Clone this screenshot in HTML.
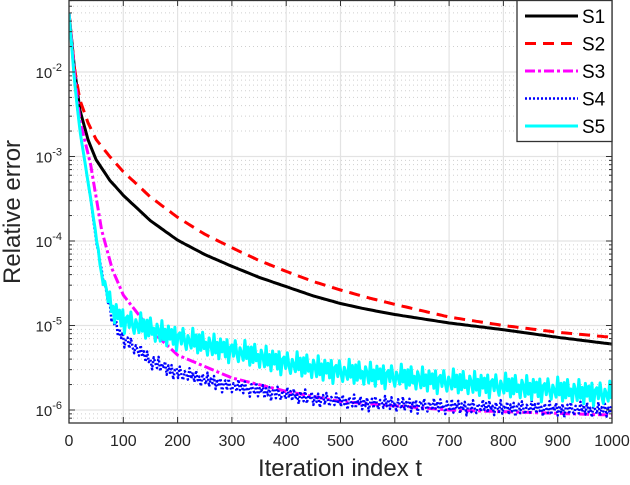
<!DOCTYPE html>
<html><head><meta charset="utf-8"><style>
body{margin:0;background:#fff;width:630px;height:480px;overflow:hidden}
svg{font-family:"Liberation Sans",Arial,sans-serif}
</style></head><body>
<svg id="c" width="630" height="480"></svg>
<script>
const tS1=[0,10,20,35,50,75,100,150,200,250,300,350,400,450,500,550,600,700,800,900,1000];
const vS1=[-1.3,-1.95,-2.45,-2.8,-3.04,-3.28,-3.46,-3.76,-3.99,-4.16,-4.3,-4.43,-4.54,-4.65,-4.74,-4.81,-4.87,-4.97,-5.05,-5.14,-5.22];
const tS2=[0,10,20,35,50,75,100,150,200,250,300,350,400,450,500,550,600,700,800,900,1000];
const vS2=[-1.3,-1.95,-2.33,-2.6,-2.8,-3.0,-3.18,-3.48,-3.72,-3.92,-4.08,-4.23,-4.36,-4.48,-4.58,-4.67,-4.75,-4.9,-5.0,-5.08,-5.14];
const tS3=[0,10,20,40,60,80,100,150,200,300,400,500,700,1000];
const vS3=[-1.3,-2.0,-2.57,-3.1,-3.87,-4.34,-4.64,-5.05,-5.35,-5.62,-5.78,-5.9,-6.0,-6.06];
const tS4=[0,10,20,40,50,60,80,100,150,200,300,400,500,700,1000];
const vS4=[-1.3,-2.1,-2.69,-3.51,-4.0,-4.34,-4.94,-5.15,-5.42,-5.56,-5.72,-5.82,-5.9,-5.96,-6.0];
const tS5=[0,10,20,40,60,80,100,150,200,300,400,500,700,1000];
const vS5=[-1.3,-2.1,-2.69,-3.5,-4.4,-4.82,-4.94,-5.05,-5.15,-5.3,-5.45,-5.55,-5.67,-5.82];
const jitterS4=[0.05,-0.06,0.08,-0.03,0.02,-0.09,0.06,0.0,-0.05,0.09,-0.07,0.03,-0.02,0.07,-0.08,0.04,-0.04,0.06,-0.1,0.02,0.05,-0.06,0.08,-0.01,-0.07,0.04,0.01,-0.05,0.09,-0.03];
const jitterS5=[0.1,-0.08,0.14,-0.05,0.03,-0.12,0.09,0.02,-0.1,0.15,-0.07,0.06,-0.13,0.11,-0.04,0.08,-0.09,0.12,-0.15,0.04,0.07,-0.06,0.13,-0.02,-0.11,0.06,0.0,-0.08,0.16,-0.05,0.09,-0.12];
const xTicks=[0,100,200,300,400,500,600,700,800,900,1000];
const yTicks=[-6,-5,-4,-3,-2];
const names=["S1","S2","S3","S4","S5"];

const NS="http://www.w3.org/2000/svg";
const svg=document.getElementById('c');
const X0=69,X1=612,Y0=0,Y1=423;
const xmin=0,xmax=1000,lmax=-1.148,lmin=-6.154;
const sx=t=>X0+(t-xmin)/(xmax-xmin)*(X1-X0);
const sy=l=>Y0+(lmax-l)/(lmax-lmin)*(Y1-Y0);
function el(tag,attrs,parent){const e=document.createElementNS(NS,tag);for(const k in attrs)e.setAttribute(k,attrs[k]);(parent||svg).appendChild(e);return e;}

const grid=el('g',{});


for(let d=-7;d<=-1;d++){for(let m=2;m<=9;m++){const l=d+Math.log10(m);if(l<lmin||l>lmax)continue;const y=sy(l);
 el('line',{x1:X0,x2:X1,y1:y,y2:y,stroke:'#cfcfcf','stroke-width':1,'stroke-dasharray':'1,3'},grid);}}
xTicks.forEach(t=>{const x=sx(t);el('line',{x1:x,x2:x,y1:Y0,y2:Y1,stroke:'#e3e3e3','stroke-width':1.2},grid);});
yTicks.forEach(l=>{const y=sy(l);el('line',{x1:X0,x2:X1,y1:y,y2:y,stroke:'#e3e3e3','stroke-width':1.2},grid);});

function interp(ts,vs,t){for(let i=1;i<ts.length;i++){if(t<=ts[i]){const f=(t-ts[i-1])/(ts[i]-ts[i-1]);return vs[i-1]+f*(vs[i]-vs[i-1]);}}return vs[vs.length-1];}
function pathFor(ts,vs,jit,step){let d='';let k=0;
 for(let t=0;t<=1000;t+=step){let l=interp(ts,vs,t);if(jit&&t>45){const a=Math.min(1,(t-45)/40);l+=jit[k%jit.length]*a;k++;}
  d+=(d?'L':'M')+sx(t).toFixed(1)+','+sy(l).toFixed(1);}return d;}
const styles=[
 {c:'#000',w:3,da:''},
 {c:'#ff0000',w:3,da:'11,7'},
 {c:'#ff00ff',w:3,da:'10,3,3,3'},
 {c:'#0000ff',w:2.5,da:'2,2'},
 {c:'#00ffff',w:3,da:''}];
const data=[[tS1,vS1,null],[tS2,vS2,null],[tS3,vS3,null],[tS4,vS4,jitterS4],[tS5,vS5,jitterS5]];
const clip=el('clipPath',{id:'cp'});el('rect',{x:X0,y:Y0,width:X1-X0,height:Y1-Y0},clip);
const lines=el('g',{'clip-path':'url(#cp)'});
data.forEach((s,i)=>{const p=el('path',{d:pathFor(s[0],s[1],s[2],s[2]?3:5),fill:'none',stroke:styles[i].c,'stroke-width':styles[i].w,'stroke-dasharray':styles[i].da,'stroke-linejoin':'round'},lines);
 
 });

const ax=el('rect',{x:X0,y:Y0+0.5,width:X1-X0,height:Y1-Y0-0.5,fill:'none',stroke:'#333','stroke-width':1.3});


xTicks.forEach(t=>{const x=sx(t);el('line',{x1:x,x2:x,y1:Y1,y2:Y1-6,stroke:'#333'});el('line',{x1:x,x2:x,y1:Y0,y2:Y0+6,stroke:'#333'});
 const tx=el('text',{x:x,y:446,'text-anchor':'middle','font-size':16,fill:'#262626'});tx.textContent=t;
 
 });
for(let d=-7;d<=-1;d++){for(let m=1;m<=9;m++){const l=d+Math.log10(m);if(l<lmin||l>lmax)continue;const y=sy(l);const len=m==1?6:3;
 el('line',{x1:X0,x2:X0+len,y1:y,y2:y,stroke:'#333'});el('line',{x1:X1,x2:X1-len,y1:y,y2:y,stroke:'#333'});}}
yTicks.forEach(l=>{const y=sy(l);const tx=el('text',{x:62,y:y+6,'text-anchor':'end','font-size':15,fill:'#262626'});
 tx.innerHTML='10<tspan dy="-7" font-size="11">'+l+'</tspan>';
 
 });
const xl=el('text',{x:340,y:476,'text-anchor':'middle','font-size':24,fill:'#262626'});xl.textContent='Iteration index t';


const yl=el('text',{x:0,y:0,'text-anchor':'middle','font-size':24,fill:'#262626',transform:'translate(20,212) rotate(-90)'});yl.textContent='Relative error';



const lg=el('g',{});


el('rect',{x:517,y:0.5,width:95,height:141,fill:'#fff',stroke:'#333','stroke-width':1.3},lg);
names.forEach((n,i)=>{const y=16+i*27.5;
 const g=el('g',{},lg);
 
 
 el('line',{x1:525,x2:578,y1:y,y2:y,stroke:styles[i].c,'stroke-width':styles[i].w,'stroke-dasharray':styles[i].da},g);
 const t=el('text',{x:582,y:y+7,'font-size':19,fill:'#000'},g);t.textContent=n;});
</script>
</body></html>
